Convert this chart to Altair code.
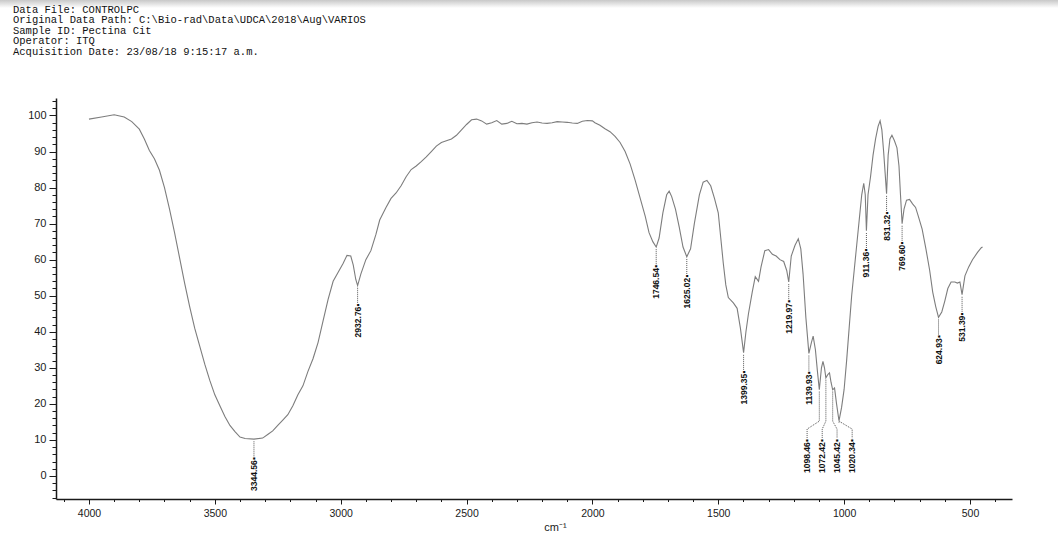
import altair as alt
import pandas as pd

# ---------------- data ----------------
wavenumber = [
    4000, 3950, 3900, 3860, 3830, 3800, 3780, 3760, 3740, 3720, 3700, 3680, 3660, 3640, 3620,
    3600, 3580, 3560, 3540, 3520, 3500, 3480, 3460, 3440, 3420, 3400, 3380, 3344.56, 3310, 3290,
    3270, 3250, 3230, 3210, 3190, 3170, 3150, 3130, 3110, 3090, 3070, 3050, 3030, 3010, 2990,
    2975, 2960, 2950, 2940, 2932.76, 2920, 2900, 2880, 2860, 2845, 2820, 2800, 2780, 2760, 2740,
    2720, 2700, 2680, 2660, 2640, 2620, 2600, 2580, 2560, 2540, 2520, 2500, 2480, 2460, 2440,
    2420, 2400, 2380, 2360, 2340, 2320, 2300, 2280, 2260, 2240, 2220, 2200, 2180, 2160, 2140,
    2120, 2100, 2080, 2060, 2040, 2020, 2000, 1990, 1970, 1950, 1930, 1910, 1890, 1870, 1850,
    1830, 1810, 1790, 1775, 1760, 1746.54, 1735, 1720, 1705, 1695, 1685, 1670, 1655, 1640, 1625.02,
    1610, 1595, 1575, 1560, 1545, 1530, 1515, 1500, 1490, 1480, 1470, 1460, 1440, 1425, 1412,
    1399.35, 1390, 1380, 1365, 1353, 1340, 1330, 1315, 1300, 1285, 1270, 1255, 1240, 1228, 1219.97,
    1210, 1195, 1182, 1172, 1163, 1152, 1139.93, 1130, 1123, 1114, 1106, 1098.46, 1090, 1084, 1078,
    1072.42, 1064, 1058, 1052, 1045.42, 1038, 1030, 1020.34, 1010, 1000, 990, 980, 970, 960, 950,
    940, 930, 922, 916, 911.36, 905, 895, 885, 875, 865, 857, 850, 843, 837, 831.32,
    825, 818, 810, 800, 790, 782, 776, 769.60, 762, 752, 740, 728, 716, 705, 690,
    675, 660, 648, 636, 624.93, 612, 600, 588, 575, 560, 550, 540, 531.39, 520, 505,
    490, 470, 455, 450,
]
transmittance = [
    99.0, 99.6, 100.2, 99.6, 98.3, 96.2, 93.5, 90.3, 88.0, 84.8, 80.0, 74.0, 67.5, 60.5, 53.5,
    47.0, 41.0, 36.0, 31.0, 26.5, 22.5, 19.5, 16.5, 14.0, 12.3, 10.8, 10.4, 10.2, 10.5, 11.5,
    12.5, 14.0, 15.5, 17.0, 19.5, 22.5, 25.0, 29.0, 32.5, 37.0, 43.0, 49.0, 54.0, 56.5, 59.0,
    61.2, 61.0, 58.5, 54.5, 52.8, 56.0, 60.0, 62.5, 67.0, 71.0, 74.5, 77.0, 78.5, 80.5, 83.0,
    85.0, 86.0, 87.2, 88.5, 90.0, 91.5, 92.5, 93.0, 93.5, 94.5, 96.0, 97.5, 98.8, 99.0, 98.5,
    97.6, 98.0, 98.6, 97.6, 97.8, 98.4, 97.7, 97.8, 97.6, 98.0, 98.2, 97.9, 97.8, 98.0, 98.3,
    98.2, 98.1, 97.9, 97.8, 98.4, 98.6, 98.5, 98.0, 97.3, 96.3, 95.5, 94.2, 92.5, 90.0, 86.5,
    82.0, 77.0, 72.0, 67.5, 65.0, 63.5, 66.0, 73.0, 78.0, 79.0, 77.5, 74.0, 69.0, 63.5, 60.8,
    63.0, 70.0, 78.0, 81.5, 82.0, 80.5, 77.0, 73.0, 66.0, 59.0, 53.0, 49.5, 48.0, 46.5, 41.0,
    34.2, 40.0, 45.0, 51.0, 55.3, 54.0, 58.0, 62.5, 62.8, 61.5, 61.0, 60.0, 59.5, 57.0, 53.8,
    61.0, 64.0, 65.8, 63.0, 56.0, 44.0, 34.0, 37.0, 38.8, 35.0, 29.0, 23.9, 30.0, 31.8, 30.0,
    27.2, 28.2, 28.6, 26.0, 23.9, 24.4, 20.0, 15.3, 19.0, 24.0, 32.0, 41.0, 50.0, 57.0, 64.0,
    71.0, 78.0, 81.2, 78.0, 68.0, 78.0, 83.0, 89.0, 93.5, 97.0, 98.5, 96.0, 90.0, 84.0, 78.3,
    89.0, 93.5, 94.5, 93.0, 91.0, 86.0, 78.0, 70.0, 74.0, 76.5, 76.7, 75.5, 74.5, 72.0, 68.5,
    63.0, 57.0, 51.0, 47.0, 44.0, 45.5, 48.5, 52.0, 53.8, 53.8, 53.5, 53.8, 50.3, 55.5, 58.0,
    60.0, 62.0, 63.3, 63.5,
]

peak_wn = [3344.56, 2932.76, 1746.54, 1625.02, 1399.35, 1219.97, 1139.93,
           1098.46, 1072.42, 1045.42, 1020.34, 911.36, 831.32, 769.60, 624.93, 531.39]
peak_text = ["3344.56", "2932.76", "1746.54", "1625.02", "1399.35", "1219.97", "1139.93",
             "1098.46", "1072.42", "1045.42", "1020.34", "911.36", "831.32", "769.60",
             "624.93", "531.39"]
# crowded group whose labels are spread out below the bands
group_wn = [1098.46, 1072.42, 1045.42, 1020.34]
group_label_wn = [1147, 1087, 1028, 968]

header_lines = [
    "Data File: CONTROLPC",
    "Original Data Path: C:\\Bio-rad\\Data\\UDCA\\2018\\Aug\\VARIOS",
    "Sample ID: Pectina Cit",
    "Operator: ITQ",
    "Acquisition Date: 23/08/18 9:15:17 a.m.",
]

x_major = [4000, 3500, 3000, 2500, 2000, 1500, 1000, 500]
x_minor = list(range(400, 4101, 100))
y_major = list(range(0, 101, 10))
y_minor = list(range(-6, 105, 2))

# ---------------- tables ----------------
spec = pd.DataFrame({"wn": wavenumber, "T": transmittance})
lookup = dict(zip(wavenumber, transmittance))

lead = 5.0
rows = []
for w, t in zip(peak_wn, peak_text):
    d = lookup[w]
    if w in group_wn:
        lw = group_label_wn[group_wn.index(w)]
        rows.append({"wn": lw, "T": 10.2, "label": t + "\u25aa"})
    else:
        rows.append({"wn": w, "T": d - lead, "label": t + "\u25aa"})
labels = pd.DataFrame(rows)

simple = pd.DataFrame([{"wn": w, "top": lookup[w] - 0.6, "bot": lookup[w] - lead}
                       for w in peak_wn if w not in group_wn])

gl = []
for w, lw in zip(group_wn, group_label_wn):
    d = lookup[w]
    pts = [(w, d - 0.5), (w, 15.2), (lw, 13.0), (lw, 10.4)]
    for i, (a, b) in enumerate(pts):
        gl.append({"peak": str(w), "o": i, "wn": a, "T": b})
glines = pd.DataFrame(gl)

xs = alt.Scale(domain=[333, 4131], reverse=True, nice=False, zero=False)
ys = alt.Scale(domain=[-6.4, 104.85], nice=False, zero=False)

lab_font = "Liberation Sans"
ax_col = "#1a1a1a"

line = alt.Chart(spec).mark_line(color="#7d7d7d", strokeWidth=1.1).encode(
    x=alt.X("wn:Q", scale=xs,
            axis=alt.Axis(values=x_major, format="d", orient="bottom", grid=False, tickSize=5,
                          tickColor=ax_col, domainColor=ax_col, domainWidth=1.5,
                          labelFont=lab_font, labelFontSize=10.5, labelColor=ax_col,
                          labelPadding=4, title="cm\u207b\u00b9", titleFont=lab_font,
                          titleFontSize=11, titleFontWeight="normal", titleColor=ax_col,
                          titleX=499, titleY=31, titleBaseline="alphabetic")),
    y=alt.Y("T:Q", scale=ys,
            axis=alt.Axis(values=y_major, format="d", orient="left", grid=False, tickSize=7,
                          tickColor=ax_col, domainColor=ax_col, domainWidth=1.5,
                          labelFont=lab_font, labelFontSize=11, labelColor=ax_col,
                          labelPadding=3, title=None)),
    order="o:Q",
).transform_calculate(o="-datum.wn")

rules = alt.Chart(simple).mark_rule(color="#555555", strokeWidth=1, strokeDash=[1, 1]).encode(
    x=alt.X("wn:Q", scale=xs,
            axis=alt.Axis(values=x_minor, orient="bottom", grid=False, labels=False,
                          domain=False, tickSize=2.5, tickColor=ax_col, title=None)),
    y=alt.Y("top:Q", scale=ys,
            axis=alt.Axis(values=y_minor, orient="left", grid=False, labels=False,
                          domain=False, tickSize=4, tickColor=ax_col, title=None)),
    y2="bot:Q",
)

glead = alt.Chart(glines).mark_line(color="#555555", strokeWidth=1, strokeDash=[1, 1]).encode(
    x=alt.X("wn:Q", scale=xs, axis=None),
    y=alt.Y("T:Q", scale=ys, axis=None),
    detail="peak:N",
    order="o:Q",
)

text = alt.Chart(labels).mark_text(angle=270, align="right", baseline="middle",
                                   font="Liberation Sans Narrow, Liberation Sans",
                                   fontSize=8.5, fontWeight="bold", color="#111111").encode(
    x=alt.X("wn:Q", scale=xs, axis=None),
    y=alt.Y("T:Q", scale=ys, axis=None),
    text="label:N",
)

strip = alt.Chart(pd.DataFrame({"k": [0]})).mark_rect(
    color=alt.Gradient(gradient="linear", x1=0, x2=0, y1=0, y2=1,
                       stops=[alt.GradientStop(color="#c8c8c8", offset=0),
                              alt.GradientStop(color="#ffffff", offset=1)])
).encode(x=alt.value(-56), x2=alt.value(1002), y=alt.value(-98), y2=alt.value(-90))

chart = alt.layer(strip, line, rules, glead, text).resolve_axis(
    x="independent", y="independent"
).properties(
    width=956,
    height=401,
    autosize=alt.AutoSizeParams(type="none"),
    padding={"left": 56, "top": 98, "right": 46, "bottom": 34},
    title=alt.TitleParams(text=header_lines, anchor="start", frame="group", orient="top",
                          font="Liberation Mono", fontSize=10.5, fontWeight="normal",
                          color="#111111", lineHeight=10.5, dx=-43, offset=-57),
    background="white",
).configure_view(stroke=None)

chart.save("out.html", embed_options={"renderer": "svg", "actions": False})
